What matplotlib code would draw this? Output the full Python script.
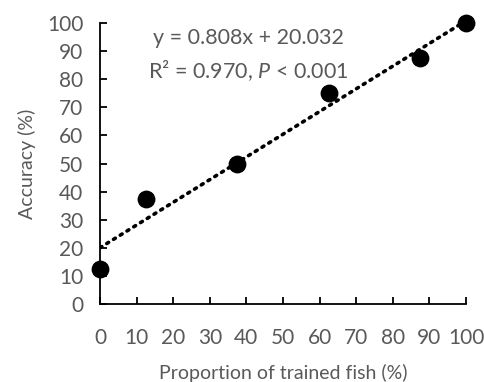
import matplotlib
matplotlib.use("Agg")
import matplotlib.pyplot as plt
import numpy as np

# data
trained = [0, 12.5, 37.5, 62.5, 87.5, 100]
accuracy = [12.5, 37.5, 50, 75, 87.5, 100]
ticks = list(range(0, 101, 10))

plt.rcParams['font.family'] = ['Lato', 'DejaVu Sans']
plt.rcParams['mathtext.fontset'] = 'custom'
plt.rcParams['mathtext.rm'] = 'Lato'
plt.rcParams['mathtext.it'] = 'Lato:italic'
grey = '#595959'

fig = plt.figure(figsize=(4.84, 3.82), dpi=100)
ax = fig.add_axes([100/484, 1 - 304/382, 366/484, 281/382])

# linear trendline
slope, intercept = np.polyfit(trained, accuracy, 1)
xs = np.array([0, 100])
ax.plot(xs, slope*xs + intercept, color='black', linestyle=(0, (0.6, 1.6)),
        linewidth=2.6, dash_capstyle='round', zorder=2)
ax.scatter(trained, accuracy, s=140, color='black', zorder=3, clip_on=False)

ax.set_xlim(0, 100)
ax.set_ylim(0, 100)
ax.set_xticks(ticks)
ax.set_yticks(ticks)
for side in ['top', 'right']:
    ax.spines[side].set_visible(False)
for side in ['left', 'bottom']:
    ax.spines[side].set_linewidth(1.3)
ax.tick_params(direction='in', length=5, width=1.3, labelsize=15,
               labelcolor=grey)
ax.tick_params(axis='x', pad=17)
ax.tick_params(axis='y', pad=12)

ax.set_xlabel('Proportion of trained fish (%)', fontsize=14, color=grey,
              labelpad=12)
ax.set_ylabel('Accuracy (%)', fontsize=14, color=grey, labelpad=8)

ax.text(0.406, 0.947, 'y = 0.808x + 20.032', transform=ax.transAxes,
        ha='center', va='center', fontsize=15.5, color=grey)
ax.text(0.406, 0.83, 'R² = 0.970, $\\it{P}$ < 0.001', transform=ax.transAxes,
        ha='center', va='center', fontsize=15.5, color=grey)

fig.savefig('out.png', dpi=100)
